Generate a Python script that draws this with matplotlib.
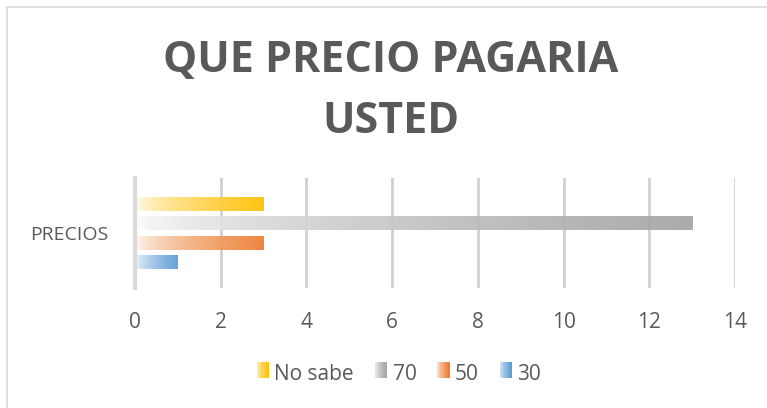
import numpy as np
import matplotlib.pyplot as plt
from matplotlib.colors import to_rgb
from matplotlib.patches import Rectangle
from matplotlib.legend_handler import HandlerBase

# data
categoria = "PRECIOS"
series = ["30", "50", "70", "No sabe"]
valores = [1, 3, 13, 3]
colores = ["#5b9bd5", "#ed7d31", "#a5a5a5", "#ffc000"]
ticks_x = [0, 2, 4, 6, 8, 10, 12, 14]
titulo = "QUE PRECIO PAGARIA\nUSTED"

W, H = 767, 408
fig = plt.figure(figsize=(W / 100, H / 100), dpi=100)
plt.rcParams['font.family'] = ['Open Sans', 'DejaVu Sans']

# chart area border (only left/top visible)
fig.patches.append(Rectangle((7 / W, -0.1), 1.2, 1 - 7 / H + 0.1, transform=fig.transFigure,
                             fill=False, edgecolor="#d9d9d9", lw=1.2))

ax = fig.add_axes([135 / W, 1 - 288 / H, 600 / W, 110 / H])
ax.set_xlim(0, 14)
ax.set_ylim(-0.5, 0.5)


def gradiente(color, n=256):
    c = np.array(to_rgb(color))
    t = np.linspace(0, 1, n) ** 0.6
    img = (1 - t)[:, None] * np.ones(3) + t[:, None] * c
    return img[None, :, :]


offsets = [-0.263, -0.088, 0.088, 0.263]
alto = 0.125
for v, c, off in zip(valores, colores, offsets):
    bar = ax.barh(off, v, height=alto, color="none", edgecolor="none")[0]
    im = ax.imshow(gradiente(c), extent=[0, v, off - alto / 2, off + alto / 2],
                   aspect="auto", zorder=2, interpolation="bilinear", alpha=0.93)
    im.set_clip_path(bar)

ax.set_xticks(ticks_x)
ax.set_yticks([0])
ax.set_yticklabels([categoria])
ax.grid(axis="x", color="#d0d0d0", lw=2, zorder=1)
ax.set_axisbelow(True)
for s in ["top", "right", "bottom"]:
    ax.spines[s].set_visible(False)
ax.spines["left"].set_color("#d9d9d9")
ax.spines["left"].set_linewidth(3)
ax.spines["left"].set_zorder(4)
ax.tick_params(axis="both", length=0, labelsize=15, labelcolor="#595959")
ax.tick_params(axis="x", pad=17)
ax.tick_params(axis="y", pad=19, labelsize=14)

fig.text(391 / W, 1 - 91 / H, titulo, ha="center", va="center", fontsize=31,
         fontweight="bold", color="#595959", linespacing=1.56)


class HandlerGrad(HandlerBase):
    def create_artists(self, legend, orig, xd, yd, width, height, fontsize, trans):
        c = np.array(to_rgb(orig.get_facecolor()))
        n = 8
        arts = []
        for i in range(n):
            t = ((i + 1) / n) ** 0.6
            col = (1 - t) * np.ones(3) + t * c
            r = Rectangle((xd + width * i / n, yd), width / n, height, facecolor=col,
                          edgecolor="none", transform=trans)
            arts.append(r)
        return arts


handles = [Rectangle((0, 0), 1, 1, facecolor=c) for c in colores[::-1]]
leg = fig.legend(handles, series[::-1], loc="center", bbox_to_anchor=(399 / W, 1 - 374 / H),
                 ncol=4, frameon=False, fontsize=15, handlelength=0.6, handleheight=0.85,
                 handletextpad=0.25, columnspacing=1.0,
                 handler_map={Rectangle: HandlerGrad()})
for t in leg.get_texts():
    t.set_color("#595959")

fig.savefig("out.png", dpi=100)
